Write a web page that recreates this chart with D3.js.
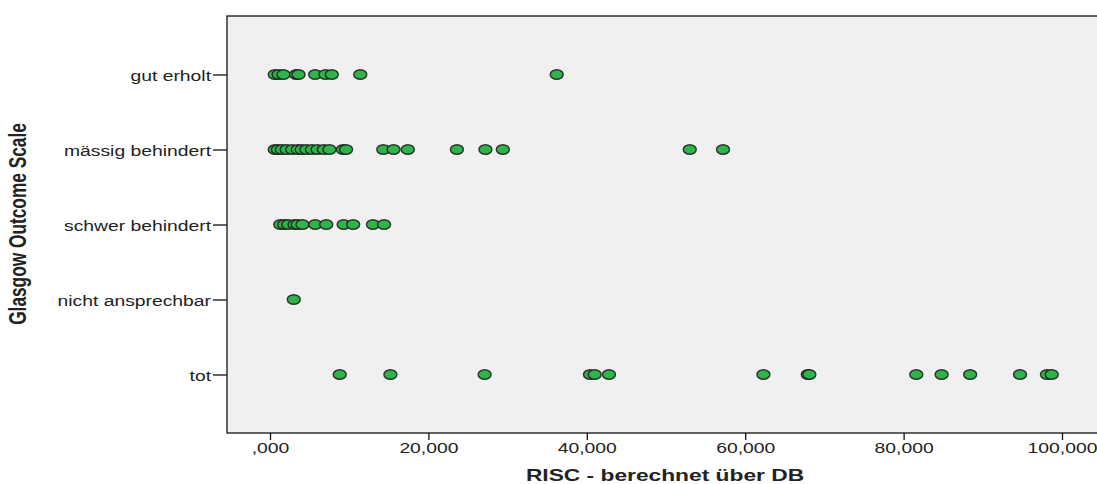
<!DOCTYPE html>
<html>
<head>
<meta charset="utf-8">
<script src="https://cdn.jsdelivr.net/npm/d3@7"></script>
<style>
  body { margin: 0; background: #fff; }
  svg { display: block; }
  text { font-family: Arial, "Liberation Sans", sans-serif; fill: #222; }
</style>
</head>
<body>
<div id="chart"></div>
<script>
// categories, top to bottom
const categories = ['gut erholt', 'mässig behindert', 'schwer behindert', 'nicht ansprechbar', 'tot'];

// RISC values per outcome group
const gutErholt = [600, 1100, 1700, 3300, 3600, 5700, 7000, 7800, 11400, 36200];
const maessigBehindert = [600, 1000, 1500, 2100, 2800, 3500, 4000, 4600, 5300, 6000, 6800, 7500,
  9200, 9600, 14300, 15600, 17400, 23600, 27200, 29400, 53000, 57200];
const schwerBehindert = [1300, 1800, 2300, 3100, 3500, 4100, 5700, 7100, 9300, 10500, 13000, 14400];
const nichtAnsprechbar = [3000];
const tot = [8800, 15200, 27100, 40400, 41000, 42800, 62300, 67900, 68100, 81600, 84800, 88400, 94700, 98100, 98700];

const groups = [gutErholt, maessigBehindert, schwerBehindert, nichtAnsprechbar, tot];

const xTicks = [0, 20000, 40000, 60000, 80000, 100000];
const xTickLabels = [',000', '20,000', '40,000', '60,000', '80,000', '100,000'];

const width = 1097, height = 484;
const margin = { top: 16, right: -8, bottom: 51, left: 227 };
const stretch = 1.38; // the original picture is stretched horizontally

const svg = d3.select('#chart').append('svg')
  .attr('width', width)
  .attr('height', height);

const x = d3.scaleLinear()
  .domain([-5430, 105430])
  .range([margin.left, width - margin.right]);

const y = d3.scalePoint()
  .domain(categories)
  .range([margin.top, height - margin.bottom])
  .padding(0.78);

// plot area
svg.append('rect')
  .attr('x', margin.left)
  .attr('y', margin.top)
  .attr('width', width - margin.right - margin.left)
  .attr('height', height - margin.bottom - margin.top)
  .attr('fill', '#f0f0f0')
  .attr('stroke', '#111')
  .attr('stroke-width', 1.3);

// x axis
const xAxis = svg.append('g')
  .attr('transform', `translate(0,${height - margin.bottom})`)
  .call(d3.axisBottom(x).tickValues(xTicks).tickSize(7).tickFormat((d, i) => xTickLabels[i]));
xAxis.select('.domain').remove();
xAxis.selectAll('.tick line').attr('stroke', '#111').attr('stroke-width', 1.3);
xAxis.selectAll('.tick text')
  .attr('y', 20)
  .attr('dy', 0)
  .attr('transform', `scale(${stretch},1)`)
  .style('font-size', '14px')
  .style('font-family', 'Arial, "Liberation Sans", sans-serif')
  .attr('fill', '#222');

// y axis
const yAxis = svg.append('g')
  .attr('transform', `translate(${margin.left},0)`)
  .call(d3.axisLeft(y).tickSize(14).tickPadding(0));
yAxis.select('.domain').remove();
yAxis.selectAll('.tick line').attr('stroke', '#111').attr('stroke-width', 1.3);
yAxis.selectAll('.tick text')
  .attr('x', -16 / stretch)
  .attr('dy', '0.42em')
  .attr('transform', `scale(${stretch},1)`)
  .style('font-size', '14px')
  .style('font-family', 'Arial, "Liberation Sans", sans-serif')
  .attr('fill', '#222');

// axis titles
svg.append('text')
  .attr('transform', `translate(665,481) scale(${stretch},1)`)
  .attr('text-anchor', 'middle')
  .style('font-size', '16.5px')
  .style('font-weight', 'bold')
  .attr('fill', '#111')
  .text('RISC - berechnet über DB');

svg.append('text')
  .attr('transform', `translate(26,224) scale(${stretch},1) rotate(-90)`)
  .attr('text-anchor', 'middle')
  .style('font-size', '17.3px')
  .style('font-weight', 'bold')
  .attr('fill', '#111')
  .text('Glasgow Outcome Scale');

// points
const points = [];
groups.forEach((vals, i) => vals.forEach(v => points.push({ cat: categories[i], value: v })));

svg.append('g')
  .selectAll('ellipse')
  .data(points)
  .enter().append('ellipse')
  .attr('cx', d => x(d.value))
  .attr('cy', d => y(d.cat))
  .attr('rx', 6.5)
  .attr('ry', 4.8)
  .attr('fill', '#2fb34a')
  .attr('stroke', '#1a1a1a')
  .attr('stroke-opacity', 0.85)
  .attr('stroke-width', 1.4);
</script>
</body>
</html>
